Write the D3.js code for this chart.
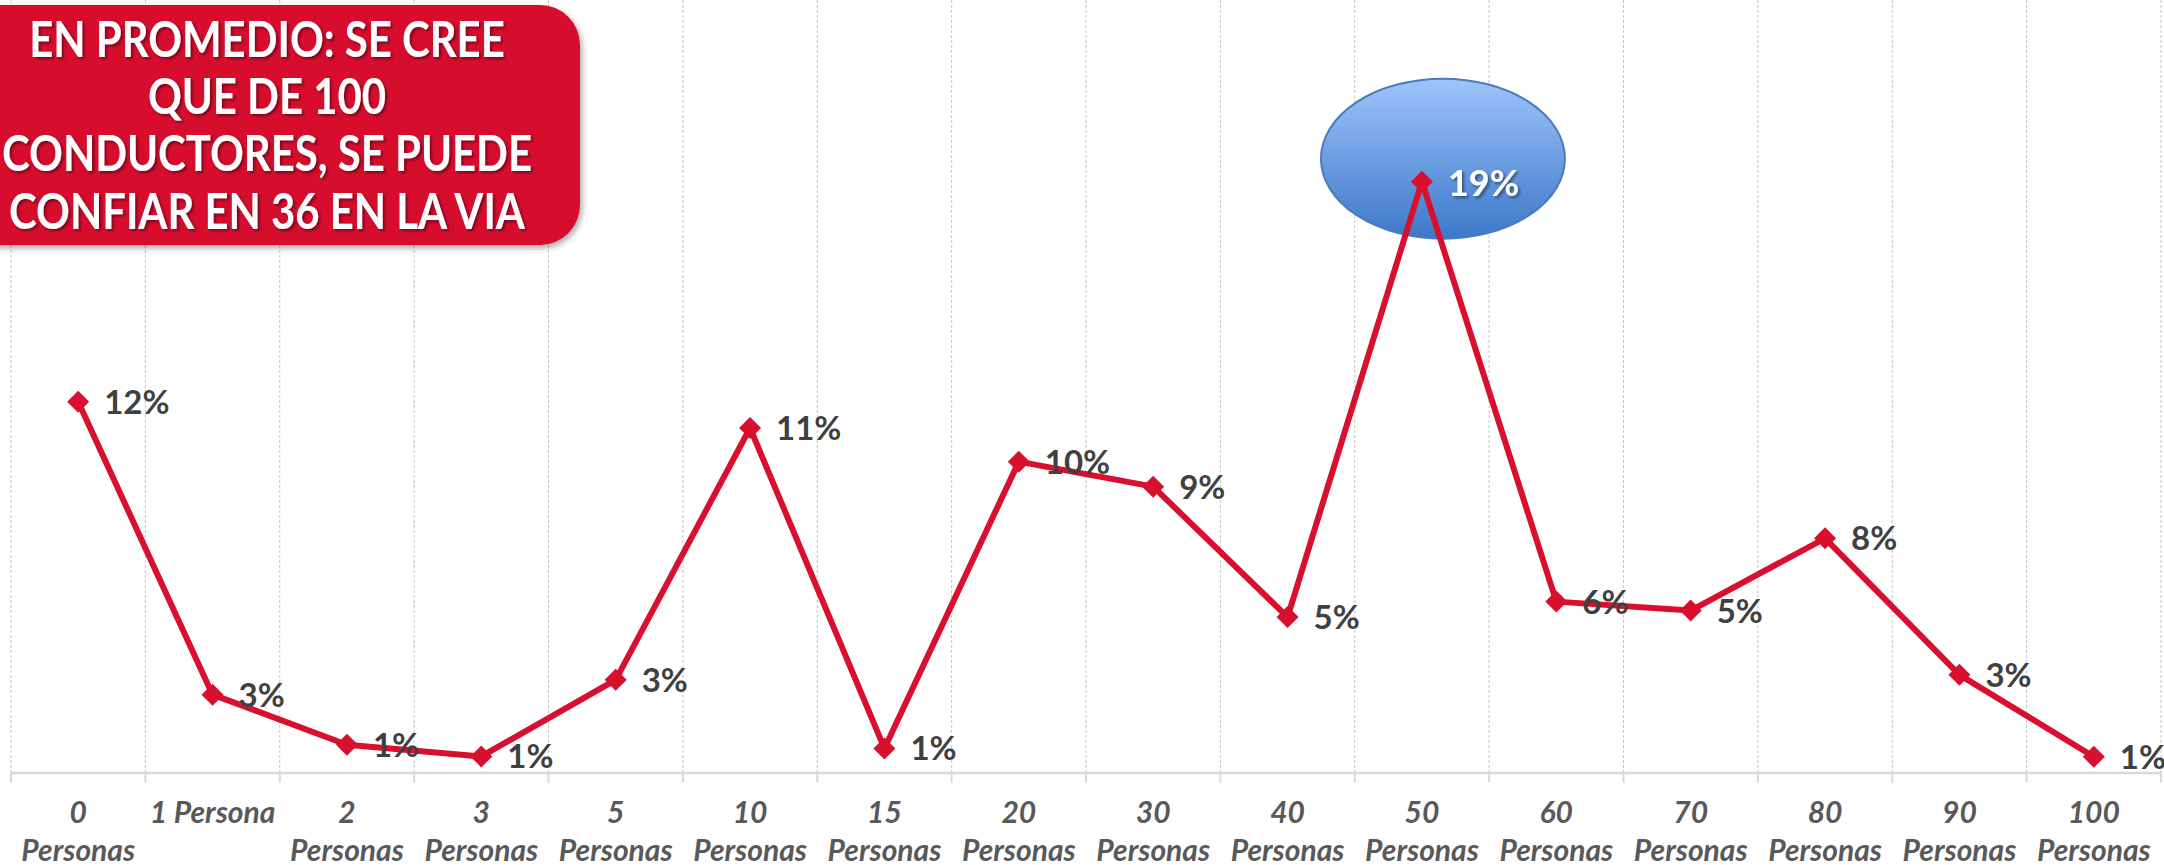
<!DOCTYPE html>
<html><head><meta charset="utf-8">
<script src="https://cdn.jsdelivr.net/npm/d3@7"></script>
<style>
html,body{margin:0;padding:0;background:#fff;}
svg{display:block;}
</style></head>
<body>
<svg id="chart" width="2164" height="865"></svg>
<script>
const categories = ["0 Personas","1 Persona","2 Personas","3 Personas","5 Personas","10 Personas","15 Personas","20 Personas","30 Personas","40 Personas","50 Personas","60 Personas","70 Personas","80 Personas","90 Personas","100 Personas"];
const values = [12.0, 2.52, 0.9, 0.52, 3.0, 11.15, 0.78, 10.06, 9.25, 5.03, 19.12, 5.53, 5.24, 7.58, 3.16, 0.51];
const yDomain = [0, 25];
const boxLines = ["EN PROMEDIO: SE CREE", "QUE DE 100", "CONDUCTORES, SE PUEDE", "CONFIAR EN 36 EN LA VIA"];

const W = 2164, H = 865;
const svg = d3.select("#chart");
const FONT = "Lato, 'Open Sans', sans-serif";
const RED = "#d90f2e";

const defs = svg.append("defs");
const grad = defs.append("linearGradient").attr("id","blueGrad").attr("x1",0).attr("y1",0).attr("x2",0).attr("y2",1);
grad.append("stop").attr("offset","0%").attr("stop-color","#9ec4fb");
grad.append("stop").attr("offset","100%").attr("stop-color","#3c78c8");
const sh = defs.append("filter").attr("id","txtShadow").attr("x","-20%").attr("y","-20%").attr("width","140%").attr("height","140%");
sh.append("feDropShadow").attr("dx",2).attr("dy",2).attr("stdDeviation",1.5).attr("flood-color","#000").attr("flood-opacity",0.45);
const bsh = defs.append("filter").attr("id","boxShadow").attr("x","-10%").attr("y","-10%").attr("width","120%").attr("height","130%");
bsh.append("feDropShadow").attr("dx",2).attr("dy",3).attr("stdDeviation",3).attr("flood-color","#000").attr("flood-opacity",0.35);

const x = d3.scaleBand().domain(categories).range([11, 2161]).padding(0);
const y = d3.scaleLinear().domain(yDomain).range([772.5, 0]);
const bw = x.bandwidth();

// vertical gridlines at category boundaries
const bounds = categories.map(c => x(c)).concat([x.range()[1]]);
svg.append("g").selectAll("line").data(bounds).join("line")
  .attr("x1", d => d).attr("x2", d => d).attr("y1", 0).attr("y2", y(0))
  .attr("stroke", "#c4c4c4").attr("stroke-width", 1).attr("stroke-dasharray", "3,2");

// axis
const axis = d3.axisBottom(x).tickSize(0).tickPadding(0);
const gAx = svg.append("g").attr("transform", `translate(0,${y(0)})`).call(axis);
gAx.select(".domain").attr("stroke", "#d9d9d9").attr("stroke-width", 2.5);
svg.append("g").selectAll("line").data(bounds).join("line")
  .attr("x1", d => d).attr("x2", d => d).attr("y1", y(0)).attr("y2", y(0) + 10)
  .attr("stroke", "#d9d9d9").attr("stroke-width", 2);

gAx.selectAll(".tick text")
  .attr("font-family", FONT).attr("font-size", 30).attr("font-weight", "bold").attr("font-style", "italic")
  .attr("fill", "#595959").attr("y", 50).attr("dy", 0)
  .each(function(d) {
    const t = d3.select(this);
    const words = d.split(" ");
    t.text(d);
    if (this.getComputedTextLength() > bw - 4 && words.length > 1) {
      t.text(null);
      t.append("tspan").attr("x", 0).attr("y", 50).text(words[0]);
      t.append("tspan").attr("x", 0).attr("y", 88).text(words.slice(1).join(" "));
    }
  });

// highlight ellipse behind peak
const peakIdx = values.indexOf(d3.max(values));
const px = x(categories[peakIdx]) + bw / 2, py = y(values[peakIdx]);
svg.append("ellipse").attr("cx", px + 21).attr("cy", py - 23).attr("rx", 122).attr("ry", 80)
  .attr("fill", "url(#blueGrad)").attr("stroke", "#4a7cba").attr("stroke-width", 2);

// line
const pts = categories.map((c, i) => [x(c) + bw / 2, y(values[i])]);
svg.append("path").datum(pts).attr("d", d3.line())
  .attr("fill", "none").attr("stroke", RED).attr("stroke-width", 6).attr("stroke-linejoin", "round");

// markers
svg.append("g").selectAll("path").data(pts).join("path")
  .attr("transform", d => `translate(${d[0]},${d[1]})`)
  .attr("d", "M0,-11L11,0L0,11L-11,0Z").attr("fill", RED);

// data labels
svg.append("g").selectAll("text").data(values).join("text")
  .attr("x", (d, i) => pts[i][0] + 26).attr("y", (d, i) => pts[i][1] + (i === peakIdx ? 14 : 12))
  .attr("font-family", FONT).attr("font-size", (d, i) => i === peakIdx ? 36 : 33).attr("font-weight", "bold")
  .attr("fill", (d, i) => i === peakIdx ? "#ffffff" : "#404040")
  .attr("filter", (d, i) => i === peakIdx ? "url(#txtShadow)" : null)
  .text(d => Math.round(d) + "%");

// red callout box
svg.append("rect").attr("x", -50).attr("y", 5).attr("width", 630).attr("height", 240).attr("rx", 40).attr("ry", 40)
  .attr("fill", "#d7102f").attr("filter", "url(#boxShadow)");
const bt = svg.append("g").attr("filter", "url(#txtShadow)");
const baselines = [57, 114, 171, 229];
let fs = 50;
bt.selectAll("text").data(boxLines).join("text")
  .attr("x", 267).attr("y", (d, i) => baselines[i]).attr("text-anchor", "middle")
  .attr("font-family", FONT).attr("font-weight", "bold").attr("font-size", fs).attr("fill", "#fff")
  .text(d => d);
let maxW = 0;
bt.selectAll("text").each(function() { maxW = Math.max(maxW, this.getComputedTextLength()); });
const widestTarget = 530;
if (maxW > 0) {
  bt.selectAll("text").each(function(d) {
    const w = this.getComputedTextLength();
    d3.select(this).attr("textLength", w * widestTarget / maxW).attr("lengthAdjust", "spacingAndGlyphs");
  });
}
</script>
</body></html>
